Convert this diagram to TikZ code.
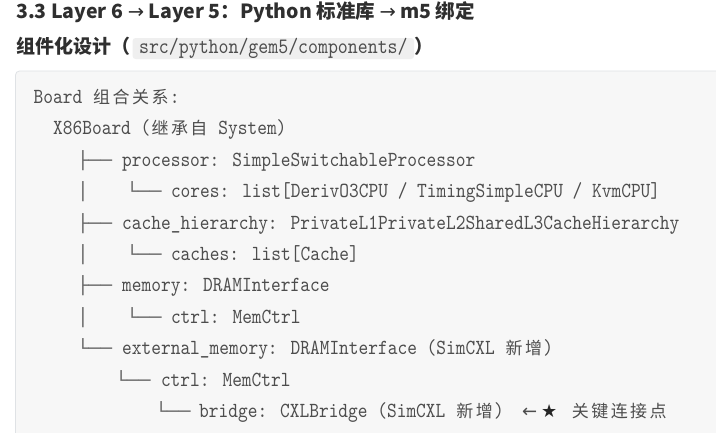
\documentclass[tikz,border=0pt]{standalone}
\usepackage{fontspec}
\usepackage{graphicx}
\newfontfamily\codefont{lmmono10-regular.otf}[FakeStretch=0.861]
\newfontfamily\zhfont{Noto Sans CJK SC}
\newfontfamily\boxfont{DejaVu Sans Mono}
\newfontfamily\symfont{DejaVu Sans}
\definecolor{codegray}{HTML}{4D4D4D}
\definecolor{headgray}{HTML}{2F2F2F}
\definecolor{treegray}{HTML}{6A6A6A}
\definecolor{blockfill}{HTML}{F7F7F7}
\definecolor{blockline}{HTML}{DFE2E5}
\definecolor{inlinefill}{HTML}{EFEFEF}
\newcommand\zc[1]{\makebox[19.44pt][c]{\zhfont\fontsize{17}{17}\selectfont #1}}
\newcommand\tb[1]{\scalebox{1.146}[1]{#1}}
\tikzset{
  codeline/.style={anchor=base west, inner sep=0pt, text=codegray,
    font=\codefont\fontsize{21.5}{21.5}\selectfont},
  treemark/.style={anchor=base west, inner sep=0pt, text=treegray,
    font=\boxfont\fontsize{17}{17}\selectfont},
  headone/.style={anchor=base west, inner sep=0pt, text=headgray,
    font=\zhfont\bfseries\fontsize{19.5}{19.5}\selectfont},
  headtwo/.style={anchor=base west, inner sep=0pt, text=headgray,
    font=\zhfont\bfseries\fontsize{19}{19}\selectfont},
  inlinecode/.style={anchor=base west, inner xsep=6.5pt, inner ysep=2pt,
    text height=13pt, text depth=4pt, fill=inlinefill, rounded corners=3pt,
    text=codegray, font=\codefont\fontsize{22}{22}\selectfont},
}
\begin{document}
\begin{tikzpicture}[x=1pt,y=-1pt]
\useasboundingbox (0,0) rectangle (716,432);
\clip (0,0) rectangle (716,432);
\fill[white] (0,0) rectangle (716,432);
% headings
\node[headone] (h1) at (16,18) {3.3 Layer 6 {\symfont\mdseries →} Layer 5：Python 标准库 {\symfont\mdseries →} m5 绑定};
\node[headtwo] (h2a) at (16,53) {组件化设计（};
\node[inlinecode] (h2code) at ([xshift=2pt]h2a.base east) {src/python/gem5/components/};
\node[headtwo] (h2b) at (h2code.base east) {）};
% code block
\draw[fill=blockfill, draw=blockline, line width=0.8pt, rounded corners=4pt]
  (15.5,71) rectangle (740,460);
\node[codeline] (l1) at (33.5,103.5) {Board \zc{组}\zc{合}\zc{关}\zc{系}:};
\node[codeline] (l2) at (53,134.9) {X86Board (\zc{继}\zc{承}\zc{自} System)};
\node[treemark] (t3) at (76.8,166.3) {\tb{├──}};
\node[codeline] (l3) at (122,166.3) {processor: SimpleSwitchableProcessor};
\node[treemark] (t4a) at (76.8,197.7) {\tb{│}};
\node[treemark] (t4b) at (126.1,197.7) {\tb{└──}};
\node[codeline] (l4) at (170.8,197.7) {cores: list[DerivO3CPU / TimingSimpleCPU / KvmCPU]};
\node[treemark] (t5) at (76.8,229.1) {\tb{├──}};
\node[codeline] (l5) at (122,229.1) {cache\_hierarchy: PrivateL1PrivateL2SharedL3CacheHierarchy};
\node[treemark] (t6a) at (76.8,260.4) {\tb{│}};
\node[treemark] (t6b) at (126.1,260.4) {\tb{└──}};
\node[codeline] (l6) at (170.8,260.4) {caches: list[Cache]};
\node[treemark] (t7) at (76.8,291.8) {\tb{├──}};
\node[codeline] (l7) at (122,291.8) {memory: DRAMInterface};
\node[treemark] (t8a) at (76.8,323.2) {\tb{│}};
\node[treemark] (t8b) at (126.1,323.2) {\tb{└──}};
\node[codeline] (l8) at (170.8,323.2) {ctrl: MemCtrl};
\node[treemark] (t9) at (76.8,354.6) {\tb{└──}};
\node[codeline] (l9) at (122,354.6) {external\_memory: DRAMInterface (SimCXL \zc{新}\zc{增})};
\node[treemark] (t10) at (115.1,386) {\tb{└──}};
\node[codeline] (l10) at (160.8,386) {ctrl: MemCtrl};
\node[treemark] (t11) at (155.1,417.4) {\tb{└──}};
\node[codeline] (l11) at (199,417.4) {bridge: CXLBridge (SimCXL \zc{新}\zc{增})};
\node[anchor=base west, inner sep=0pt, text=codegray, font=\symfont\fontsize{18}{18}\selectfont] (arr) at (522,417.4) {←};
\node[anchor=base west, inner sep=0pt, text=black!85, font=\symfont\fontsize{18}{18}\selectfont] (star) at (541,417.4) {★};
\node[codeline] (key) at (570.5,417.4) {\zc{关}\zc{键}\zc{连}\zc{接}\zc{点}};
\end{tikzpicture}
\end{document}
